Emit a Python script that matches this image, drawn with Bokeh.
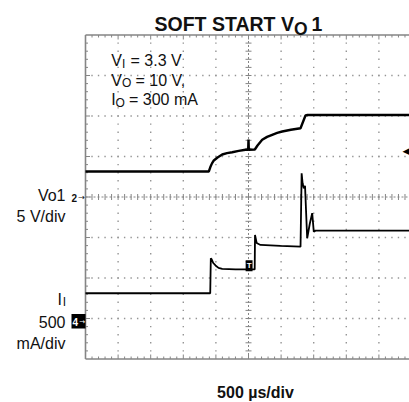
import numpy as np
from bokeh.plotting import figure
from bokeh.models import Label, ColumnDataSource, BoxAnnotation
from bokeh.embed import file_html
from bokeh.resources import INLINE

# ---- data ----
# time relative to trigger, microseconds (500 us/div, trigger at screen centre)
vo1_t_us = [-2500, -609, -585, -560, -532, -475, -403, -330, -250, -150, -46, -5, 0, 5,
            97, 138, 210, 285, 363, 440, 517, 650, 798, 874, 905, 2500]
vo1_v = [3.15, 3.15, 3.7, 4.15, 4.51, 4.88, 5.25, 5.42, 5.53, 5.7, 5.83, 5.84, 7.1, 5.84,
         5.86, 6.36, 7.06, 7.42, 7.68, 7.92, 8.09, 8.3, 8.49, 10.06, 10.12, 10.12]

ii_t_us = [-2500, -587, -578, -565, -540, -506, -460, -403, -199, 95, 100, 125, 184, 491,
           798, 815, 830, 848, 867, 900, 940, 977, 1001, 1028, 2500]
ii_ma = [342, 342, 774, 760, 715, 685, 655, 642, 636, 636, 1062, 963, 938, 926,
         917, 1823, 1700, 1638, 1667, 1021, 1200, 1330, 1102, 1115, 1115]

US_PER_DIV = 500.0
V_PER_DIV = 5.0
MA_PER_DIV = 500.0
CH2_ZERO_DIV = 0.0
CH4_ZERO_DIV = -3.06
N_XDIV = 10
N_YDIV = 8

# ---- canvas geometry (whole canvas is the plotting frame) ----
W, H = 409, 402
GL = 85.0          # graticule left edge, px
GC = 196.5         # graticule vertical centre, px
PX_X = 32.6        # px per horizontal division
PX_Y = 40.5        # px per vertical division

def X(px):
    return (px - GL) / PX_X
def Y(py):
    return (GC - py) / PX_Y

p = figure(width=W, height=H, x_range=(X(0), X(W)), y_range=(Y(H), Y(0)),
           output_backend="svg", toolbar_location=None,
           x_axis_location=None, y_axis_location=None,
           min_border=0, min_border_left=0, min_border_right=0,
           min_border_top=0, min_border_bottom=0)
p.xgrid.visible = False
p.ygrid.visible = False
p.outline_line_color = None
p.background_fill_color = "white"
p.border_fill_color = "white"

GRID = "#959595"
FRAME = "#858585"
XR = N_XDIV
YT = N_YDIV / 2

# ---- graticule dots ----
gx, gy = [], []
minor_y = np.arange(-YT + 0.2, YT - 0.1, 0.2)
for xv in range(1, N_XDIV):
    if xv == 5:
        continue
    gx += [xv] * len(minor_y)
    gy += list(minor_y)
minor_x = np.arange(0.2, XR, 0.2)
for yv in range(-3, 4):
    if yv == 0:
        continue
    gx += list(minor_x)
    gy += [yv] * len(minor_x)
p.scatter(gx, gy, marker="square", size=1.4, color=GRID, line_color=None)

# centre lines
p.segment(x0=[5, 0], y0=[-YT, 0], x1=[5, XR], y1=[YT, 0], line_color=FRAME,
          line_width=1, line_dash="2 2")
# centre-line ticks
p.segment(x0=minor_x, y0=-3 / PX_Y, x1=minor_x, y1=3 / PX_Y, line_color=FRAME, line_width=1)
p.segment(x0=5 - 3 / PX_X, y0=minor_y, x1=5 + 3 / PX_X, y1=minor_y,
          line_color=FRAME, line_width=1)

# frame edges
p.segment(x0=[0, 0, 0, XR], y0=[-YT, YT, -YT, -YT], x1=[0, XR, XR, XR],
          y1=[YT, YT, -YT, YT], line_color=FRAME, line_width=1.6)
# frame edge ticks
is_major = np.isclose(minor_x % 1, 0) | np.isclose(minor_x % 1, 1)
elen = np.where(is_major, 4.5, 2.5)
p.segment(x0=minor_x, y0=YT, x1=minor_x, y1=YT - elen / PX_Y, line_color=FRAME, line_width=1)
p.segment(x0=minor_x, y0=-YT, x1=minor_x, y1=-YT + elen / PX_Y, line_color=FRAME, line_width=1)
is_major_y = np.isclose(minor_y % 1, 0) | np.isclose(minor_y % 1, 1)
elen_y = np.where(is_major_y, 4.5, 2.5)
p.segment(x0=0, y0=minor_y, x1=elen_y / PX_X, y1=minor_y, line_color=FRAME, line_width=1)

# ---- traces ----
src_v = ColumnDataSource(dict(x=[t / US_PER_DIV + 5 for t in vo1_t_us],
                              y=[v / V_PER_DIV + CH2_ZERO_DIV for v in vo1_v]))
src_i = ColumnDataSource(dict(x=[t / US_PER_DIV + 5 for t in ii_t_us],
                              y=[i / MA_PER_DIV + CH4_ZERO_DIV for i in ii_ma]))
p.line("x", "y", source=src_v, line_color="black", line_width=2.4)
p.line("x", "y", source=src_i, line_color="black", line_width=1.8)

FONT = "Liberation Sans"

def lab(px, py, text, size, bold=False, align="left", baseline="alphabetic",
        color="#111111", font=FONT, **kw):
    p.add_layout(Label(x=X(px), y=Y(py), text=text, text_font=font,
                       text_font_size=f"{size}px",
                       text_font_style="bold" if bold else "normal",
                       text_align=align, text_baseline=baseline,
                       text_color=color, **kw))

# title
lab(154, 23.3, "SOFT START V", 19.5, bold=True)
lab(293.5, 28.5, "O", 17.5, bold=True)
lab(311, 23.3, "1", 19.5, bold=True)

# conditions
lab(110.7, 60, "V", 16)
lab(121.4, 63, "I", 12)
lab(130.0, 60, "= 3.3 V", 16)
lab(110.7, 79.5, "V", 16)
lab(121.4, 82.5, "O", 12)
lab(135.0, 79.5, "= 10 V,", 16)
lab(110.7, 99, "I", 16)
lab(115.1, 102, "O", 12)
lab(128.5, 99, "= 300 mA", 16)

# channel labels
lab(65, 195, "Vo1", 16, align="right")
lab(65, 216, "5 V/div", 16, align="right")
lab(61.5, 298.5, "I", 16, align="right")
lab(65.5, 301.5, "I", 12, align="right")
lab(65, 321, "500", 16, align="right")
lab(65, 343, "mA/div", 16, align="right")

# time base
lab(255, 391.5, "500 \u00b5s/div", 16, bold=True, align="center")

# channel markers
lab(76.5, GC + 0.5, "2", 10, bold=True, align="right", baseline="middle")
lab(84.5, GC + 0.5, "\u2192", 8, align="right", baseline="middle", font="DejaVu Sans")
p.add_layout(BoxAnnotation(left=X(71), right=X(85), top=Y(313.5), bottom=Y(328),
                           fill_color="black", fill_alpha=1.0, line_color=None))
lab(77.5, 321, "4", 10, bold=True, align="right", baseline="middle", color="white")
lab(84.5, 321, "\u2192", 7, align="right", baseline="middle", color="white",
    font="DejaVu Sans")
# trigger markers
p.add_layout(Label(x=X(248.6), y=Y(265.3), text="T", text_font=FONT,
                   text_font_size="8px", text_font_style="bold", text_color="white",
                   text_align="center", text_baseline="middle",
                   background_fill_color="black", padding=1))
lab(409, 150, "\u25c0", 9, align="right", baseline="middle", color="black",
    font="DejaVu Sans")

open("out.html", "w").write(file_html(p, INLINE))
